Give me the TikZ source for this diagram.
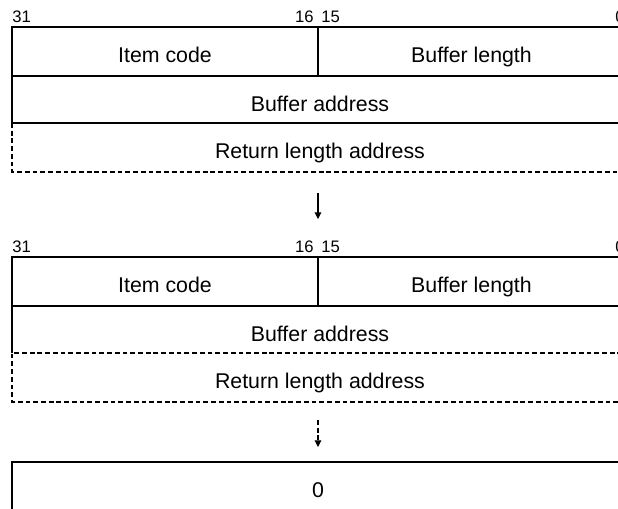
\documentclass[tikz,border=0pt]{standalone}
\usepackage{fontspec}
\setmainfont{Liberation Sans}
\usetikzlibrary{arrows.meta,positioning}

\tikzset{
  fieldtext/.style={font=\fontsize{16}{19}\selectfont, inner sep=0pt, anchor=base},
  bitno/.style={font=\fontsize{12.5}{15}\selectfont, inner sep=0pt},
  rule/.style={line width=0.8pt},
  dashrule/.style={line width=0.8pt, dash pattern=on 3.6pt off 2.2pt},
  flow/.style={line width=0.8pt, -{Triangle[length=5pt,width=5pt]}}
}

\begin{document}
\begin{tikzpicture}[x=0.75pt, y=-0.75pt]
  \useasboundingbox (0,0) rectangle (618,508);
  \clip (0,0) rectangle (618,508);

  % First layout
  \node[bitno, anchor=base west] (hi1) at (12,22) {31};
  \node[bitno, anchor=base east] (mid1a) at (314,22) {16};
  \node[bitno, anchor=base west] (mid1b) at (321,22) {15};
  \node[bitno, anchor=base east] (lo1) at (625,22) {0};

  \draw[rule] (630,27) -- (12,27) -- (12,123) -- (630,123);
  \draw[rule] (12,76) -- (630,76);
  \draw[rule] (318,27) -- (318,76);
  \draw[dashrule] (12,123) -- (12,172) -- (630,172);

  \node[fieldtext] (item1) at (165,62) {Item code};
  \node[fieldtext] (buflen1) at (471.5,62) {Buffer length};
  \node[fieldtext] (bufadr1) at (320,111) {Buffer address};
  \node[fieldtext] (retlen1) at (320,158) {Return length address};

  % Step arrow
  \coordinate (go1) at (318,193);
  \coordinate (to1) at (318,219);
  \draw[flow] (go1) -- (to1);

  % Second layout
  \node[bitno, anchor=base west] (hi2) at (12,252) {31};
  \node[bitno, anchor=base east] (mid2a) at (314,252) {16};
  \node[bitno, anchor=base west] (mid2b) at (321,252) {15};
  \node[bitno, anchor=base east] (lo2) at (625,252) {0};

  \draw[rule] (630,257) -- (12,257) -- (12,353);
  \draw[rule] (12,306) -- (630,306);
  \draw[rule] (318,257) -- (318,306);
  \draw[dashrule] (630,353) -- (12,353) -- (12,402) -- (630,402);

  \node[fieldtext] (item2) at (165,292) {Item code};
  \node[fieldtext] (buflen2) at (471.5,292) {Buffer length};
  \node[fieldtext] (bufadr2) at (320,341) {Buffer address};
  \node[fieldtext] (retlen2) at (320,388) {Return length address};

  % Optional step arrow
  \coordinate (go2) at (318,420);
  \coordinate (to2) at (318,447);
  \draw[flow, dashrule] (go2) -- (to2);

  % Terminator
  \draw[rule] (630,462) -- (12,462) -- (12,520);
  \node[fieldtext] (term) at (318,497) {0};
\end{tikzpicture}
\end{document}
